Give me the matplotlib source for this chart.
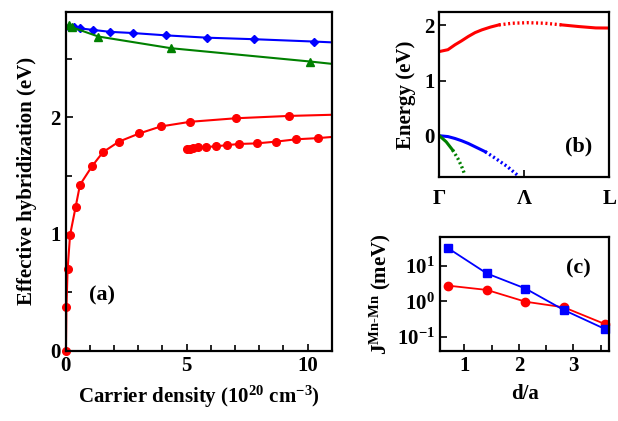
import matplotlib
matplotlib.use("Agg")
import matplotlib.pyplot as plt
from matplotlib.ticker import MultipleLocator, NullLocator

plt.rcParams["font.family"] = ["Liberation Serif", "DejaVu Serif"]
plt.rcParams["font.weight"] = "bold"
plt.rcParams["axes.labelweight"] = "bold"
plt.rcParams["font.size"] = 15
plt.rcParams["mathtext.fontset"] = "custom"
plt.rcParams["mathtext.rm"] = "Liberation Serif:bold"
plt.rcParams["mathtext.it"] = "Liberation Serif:bold"
plt.rcParams["mathtext.bf"] = "Liberation Serif:bold"
plt.rcParams["mathtext.default"] = "regular"
plt.rcParams["axes.linewidth"] = 1.6
plt.rcParams["xtick.direction"] = "in"
plt.rcParams["ytick.direction"] = "in"

# (a) effective hybridization vs carrier density (last value of each = line end at x=11)
blue_x = [0.14, 0.34, 0.59, 1.11, 1.84, 2.77, 4.14, 5.85, 7.78, 10.26, 11.0]
blue_y = [2.775, 2.77, 2.76, 2.747, 2.73, 2.72, 2.70, 2.68, 2.667, 2.647, 2.64]
green_x = [0.14, 0.25, 1.35, 4.35, 10.1, 11.0]
green_y = [2.79, 2.77, 2.69, 2.59, 2.476, 2.456]
red1_x = [0.01, 0.03, 0.08, 0.18, 0.41, 0.59, 1.09, 1.54, 2.20, 3.04, 3.93, 5.15, 7.02, 9.21, 11.0]
red1_y = [0.0, 0.37, 0.70, 0.99, 1.23, 1.42, 1.58, 1.70, 1.79, 1.86, 1.92, 1.96, 1.99, 2.01, 2.02]
red2_x = [5.00, 5.14, 5.27, 5.45, 5.79, 6.20, 6.67, 7.16, 7.89, 8.69, 9.52, 10.41, 11.0]
red2_y = [1.73, 1.73, 1.735, 1.74, 1.744, 1.75, 1.76, 1.77, 1.775, 1.79, 1.81, 1.82, 1.83]

# (b) band structure, split in solid / dotted pieces
cb_solid1_k = [0.0, 0.05, 0.092, 0.13, 0.17, 0.21, 0.25, 0.30, 0.35]
cb_solid1_e = [1.527, 1.56, 1.65, 1.72, 1.80, 1.87, 1.92, 1.97, 2.01]
cb_dot_k = [0.35, 0.43, 0.52, 0.62, 0.72]
cb_dot_e = [2.01, 2.04, 2.05, 2.04, 2.01]
cb_solid2_k = [0.72, 0.82, 0.92, 1.0]
cb_solid2_e = [2.01, 1.98, 1.955, 1.953]
hh_solid_k = [0.0, 0.05, 0.092, 0.13, 0.17, 0.21, 0.27]
hh_solid_e = [0.0, -0.015, -0.05, -0.09, -0.14, -0.20, -0.29]
hh_dot_k = [0.27, 0.33, 0.40, 0.465]
hh_dot_e = [-0.29, -0.41, -0.56, -0.73]
lh_solid_k = [0.0, 0.04, 0.078]
lh_solid_e = [0.0, -0.11, -0.26]
lh_dot_k = [0.078, 0.108, 0.13, 0.15]
lh_dot_e = [-0.26, -0.41, -0.55, -0.71]
kpoints = [0.0, 0.5, 1.0]
klabels = ["Γ", "Λ", "L"]

# (c) exchange vs distance
d = [0.707, 1.414, 2.121, 2.828, 3.58]
j_red = [2.77, 2.1, 0.98, 0.68, 0.23]
j_blue = [31.0, 6.1, 2.3, 0.57, 0.167]

fig = plt.figure(figsize=(6.18, 4.21), dpi=100)
ax1 = fig.add_axes([0.1063, 0.167, 0.4307, 0.8045])
ax2 = fig.add_axes([0.711, 0.580, 0.275, 0.391])
ax3 = fig.add_axes([0.712, 0.167, 0.274, 0.269])

n = len(blue_x) - 1
ax1.plot(blue_x, blue_y, "-D", color="blue", lw=1.5, ms=4.5, markevery=list(range(n)))
n = len(green_x) - 1
ax1.plot(green_x, green_y, "-^", color="green", lw=1.5, ms=6, markevery=list(range(n)))
n = len(red1_x) - 1
ax1.plot(red1_x, red1_y, "-o", color="red", lw=1.5, ms=5.5, markevery=list(range(n)), clip_on=False)
n = len(red2_x) - 1
ax1.plot(red2_x, red2_y, "-o", color="red", lw=1.5, ms=5.5, markevery=list(range(n)))
ax1.set_xlim(0, 11)
ax1.set_ylim(0, 2.9)
ax1.set_xticks([0, 5, 10])
ax1.set_yticks([0, 1, 2])
ax1.xaxis.set_minor_locator(MultipleLocator(1))
ax1.yaxis.set_minor_locator(MultipleLocator(0.5))
ax1.set_xlabel("Carrier density (10$^{20}$ cm$^{-3}$)", labelpad=6)
ax1.set_ylabel("Effective hybridization (eV)", labelpad=10)
ax1.text(0.135, 0.164, "(a)", transform=ax1.transAxes, ha="center", va="center", fontsize=16)

dots = (0.6, 0.8)
ax2.plot(cb_solid1_k, cb_solid1_e, "-", color="red", lw=2.2)
ax2.plot(cb_dot_k, cb_dot_e, "--", dashes=dots, color="red", lw=2.4)
ax2.plot(cb_solid2_k, cb_solid2_e, "-", color="red", lw=2.2)
ax2.plot(hh_solid_k, hh_solid_e, "-", color="blue", lw=2.2)
ax2.plot(hh_dot_k, hh_dot_e, "--", dashes=dots, color="blue", lw=2.4)
ax2.plot(lh_solid_k, lh_solid_e, "-", color="green", lw=2.2)
ax2.plot(lh_dot_k, lh_dot_e, "--", dashes=dots, color="green", lw=2.4)
ax2.set_xlim(0, 1)
ax2.set_ylim(-0.745, 2.24)
ax2.set_xticks(kpoints)
ax2.set_xticklabels(klabels)
ax2.tick_params(axis="x", pad=9)
ax2.set_yticks([0, 1, 2])
ax2.set_ylabel("Energy (eV)", labelpad=6)
ax2.text(0.82, 0.187, "(b)", transform=ax2.transAxes, ha="center", va="center", fontsize=16)

ax3.semilogy(d, j_red, "-o", color="red", lw=1.3, ms=6, clip_on=False)
ax3.semilogy(d, j_blue, "-s", color="blue", lw=1.3, ms=6, clip_on=False)
ax3.set_xlim(0.554, 3.66)
ax3.set_ylim(0.041, 63)
ax3.set_xticks([1, 2, 3])
ax3.xaxis.set_minor_locator(MultipleLocator(0.5))
ax3.set_yticks([0.1, 1, 10])
ax3.yaxis.set_minor_locator(NullLocator())
ax3.set_xlabel("d/a", labelpad=6)
ax3.set_ylabel("J$^{Mn\\text{-}Mn}$ (meV)", labelpad=3)
ax3.text(0.82, 0.73, "(c)", transform=ax3.transAxes, ha="center", va="center", fontsize=16)

for ax in (ax1, ax2, ax3):
    ax.tick_params(which="major", length=5, width=1.2)
    ax.tick_params(which="minor", length=4, width=1.2)

fig.savefig("out.png", dpi=100)
